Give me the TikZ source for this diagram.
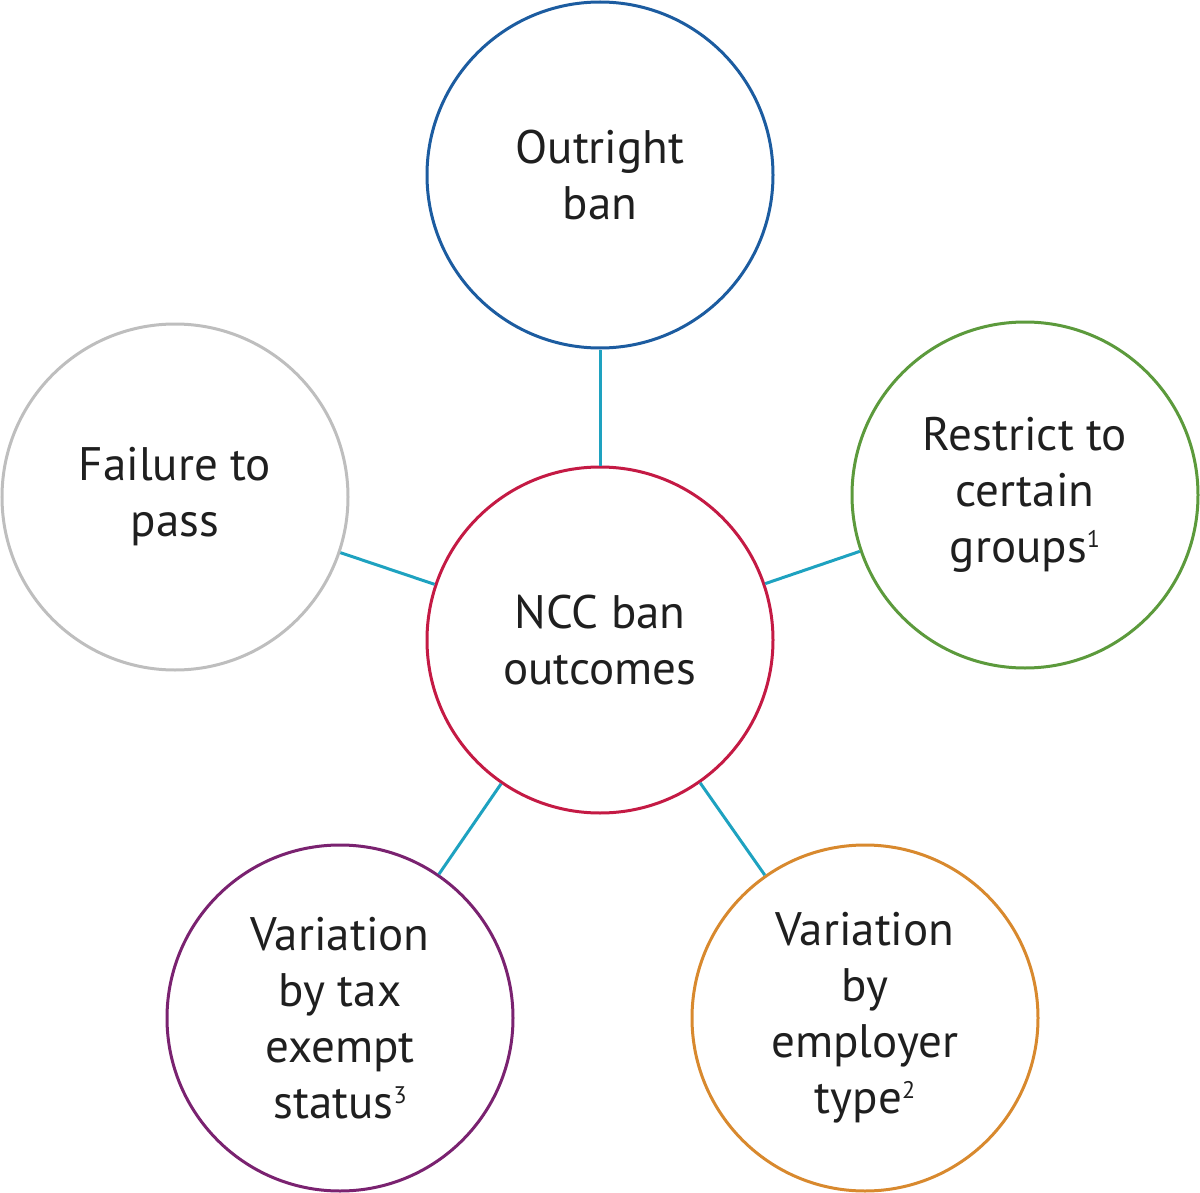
\documentclass[tikz,border=0pt]{standalone}
\usepackage{fontspec}
\setmainfont{PT Sans}
\definecolor{cblue}{RGB}{28,92,160}
\definecolor{cgreen}{RGB}{92,154,60}
\definecolor{cgray}{RGB}{190,190,190}
\definecolor{cpurple}{RGB}{122,34,112}
\definecolor{corange}{RGB}{216,137,46}
\definecolor{ccrimson}{RGB}{196,26,68}
\definecolor{cteal}{RGB}{30,162,192}
\newcommand{\fnmark}[1]{\raisebox{15pt}{\fontsize{24}{24}\selectfont #1}}
\begin{document}
\begin{tikzpicture}[x=1pt,y=-1pt,
  bubble/.style={circle, draw, line width=3pt, minimum size=346pt, inner sep=0pt,
    align=center, font=\fontsize{47}{56}\selectfont, text=black!88},
  link/.style={draw=cteal, line width=3pt}]
\useasboundingbox (0,0) rectangle (1200,1193);
\node[bubble, draw=ccrimson] (c) at (600,640) {NCC ban\\outcomes};
\node[bubble, draw=cblue] (t) at (600,175) {Outright\\ban};
\node[bubble, draw=cgreen] (r) at (1025,495) {Restrict to\\certain\\groups\fnmark{1}};
\node[bubble, draw=cgray] (l) at (175,497) {Failure to\\pass};
\node[bubble, draw=cpurple] (bl) at (340,1018) {Variation\\by tax\\exempt\\status\fnmark{3}};
\node[bubble, draw=corange] (br) at (865,1018) {Variation\\by\\employer\\type\fnmark{2}};
\draw[link] (c) -- (t);
\draw[link] (c) -- (r);
\draw[link] (c) -- (l);
\draw[link] (c) -- (bl);
\draw[link] (c) -- (br);
\end{tikzpicture}
\end{document}
